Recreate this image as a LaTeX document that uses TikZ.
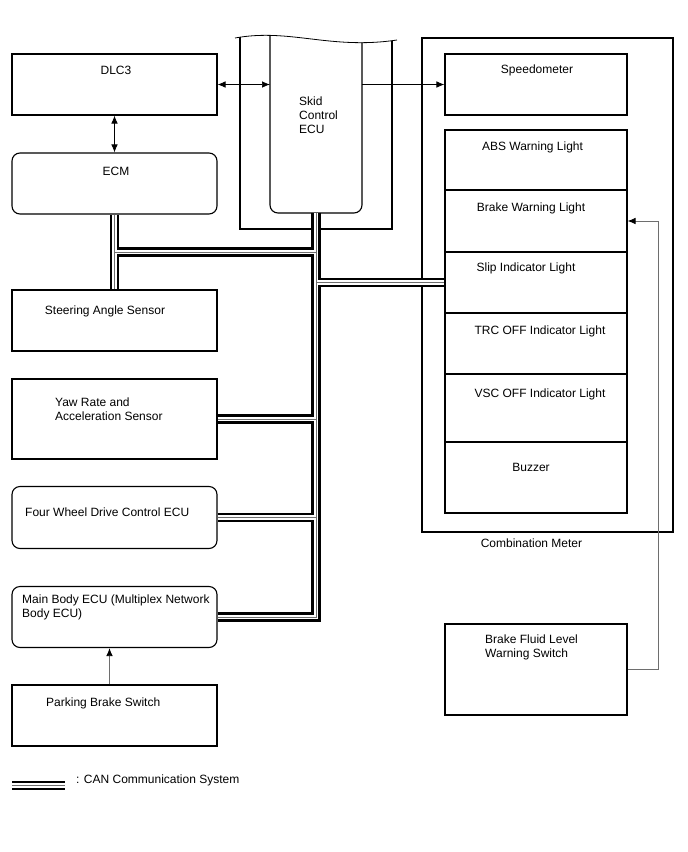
\documentclass[tikz,border=0pt]{standalone}
\usepackage{fontspec}
\setmainfont{Liberation Sans}
\usetikzlibrary{arrows.meta}
\definecolor{ln}{RGB}{110,110,110}
\begin{document}
\begin{tikzpicture}[x=1pt,y=-1pt,
  box/.style={draw, line width=1.1pt, inner sep=0pt, minimum width=205pt},
  rbox/.style={box, rounded corners=8pt},
  cell/.style={draw, line width=1.1pt, inner sep=0pt, minimum width=182pt},
  ghost/.style={inner sep=0pt, outer sep=0pt},
  lbl/.style={inner sep=0pt, font=\fontsize{12}{14}\selectfont, text height=8.6pt, text depth=0pt},
  mlbl/.style={inner sep=0pt, font=\fontsize{12}{14}\selectfont, align=left, anchor=west},
  can/.style={draw=ln, line width=0.9pt,
    preaction={draw=black, line width=9.6pt},
    preaction={draw=white, line width=4.6pt}},
  arr/.style={line width=0.7pt, -{Latex[length=8pt,width=6.5pt]}},
  darr/.style={line width=0.7pt, {Latex[length=8pt,width=6.5pt]}-{Latex[length=8pt,width=6.5pt]}},
  garr/.style={draw=ln, line width=0.8pt, -{Latex[length=8pt,width=6.5pt,color=black]}}
]
\useasboundingbox (0,0) rectangle (688,852);

% left column
\node[box,  minimum height=61pt] (dlc) at (114.5,84.5) {};
\node[rbox, minimum height=61pt] (ecm) at (114.5,183.5) {};
\node[box,  minimum height=61pt] (sas) at (114.5,320.5) {};
\node[box,  minimum height=80pt] (yaw) at (114.5,419) {};
\node[rbox, minimum height=62pt] (fwd) at (114.5,517.5) {};
\node[rbox, minimum height=61pt] (mbe) at (114.5,617) {};
\node[box,  minimum height=61pt] (pbs) at (114.5,715.5) {};

% skid control ECU (cut-away top)
\node[ghost, minimum width=92pt, minimum height=183pt] (skid) at (316,121.5) {};
\node[ghost, minimum width=152pt, minimum height=209pt] (skidf) at (316,124.5) {};
\begin{scope}
  \clip (235,38) .. controls (290,28) and (330,50) .. (397,40) -- (397,240) -- (235,240) -- cycle;
  \draw[line width=1.1pt] (skidf.north west) -- (skidf.south west) -- (skidf.south east) -- (skidf.north east);
  \draw[line width=1.1pt, rounded corners=8pt] (skid.north west) -- (skid.south west) -- (skid.south east) -- (skid.north east);
\end{scope}
\draw[line width=0.8pt] (235,38) .. controls (290,28) and (330,50) .. (397,40);

% combination meter
\node[draw, line width=1.1pt, inner sep=0pt, minimum width=251pt, minimum height=494pt] (meter) at (547.5,285) {};
\node[cell, minimum height=61pt] (spd) at (536,84.5) {};
\node[cell, minimum height=60pt] (abs) at (536,160) {};
\node[cell, minimum height=62pt] (bwl) at (536,221) {};
\node[cell, minimum height=61pt] (sil) at (536,282.5) {};
\node[cell, minimum height=61pt] (trc) at (536,343.5) {};
\node[cell, minimum height=68pt] (vsc) at (536,408) {};
\node[cell, minimum height=71pt] (buz) at (536,477.5) {};
\node[cell, minimum height=91pt] (bfs) at (536,669.5) {};

% labels
\node[lbl] (tdlc) at (116,70) {DLC3};
\node[lbl] (tecm) at (116,171) {ECM};
\node[mlbl] (tskid) at (299,115) {Skid\\Control\\ECU};
\node[lbl] (tsas) at (105,310) {Steering Angle Sensor};
\node[mlbl] (tyaw) at (55,409) {Yaw Rate and\\Acceleration Sensor};
\node[lbl, anchor=west] (tfwd) at (25,512) {Four Wheel Drive Control ECU};
\node[mlbl] (tmbe) at (22,607) {Main Body ECU (Multiplex Network\\Body ECU)};
\node[lbl, anchor=west] (tpbs) at (46,702) {Parking Brake Switch};
\node[lbl] (tspd) at (537,69) {Speedometer};
\node[lbl] (tabs) at (532.5,146) {ABS Warning Light};
\node[lbl] (tbwl) at (531,207) {Brake Warning Light};
\node[lbl] (tsil) at (526,267) {Slip Indicator Light};
\node[lbl] (ttrc) at (540,330) {TRC OFF Indicator Light};
\node[lbl] (tvsc) at (540,393) {VSC OFF Indicator Light};
\node[lbl] (tbuz) at (531,467) {Buzzer};
\node[lbl] (tmeter) at (531.5,543) {Combination Meter};
\node[mlbl] (tbfs) at (485,647) {Brake Fluid Level\\Warning Switch};

% arrows
\draw[darr] (dlc.south) -- (ecm.north);
\draw[darr] (dlc.east) -- (dlc.east -| skid.west);
\draw[arr] (spd.west -| skid.east) -- (spd.west);
\draw[garr] ([xshift=-5pt]pbs.north) -- ([xshift=-5pt]mbe.south);
\draw[garr] (bfs.east) -- ++(31,0) |- (bwl.east);

% CAN bus
\coordinate (jtop) at (316,252);
\draw[can]
  (ecm.south) -- (sas.north)
  (ecm.south |- jtop) -- (jtop)
  (skid.south) -- (mbe.east -| skid.south) -- (mbe.east)
  (sil.west -| skid.south) -- (sil.west)
  (yaw.east) -- (yaw.east -| skid.south)
  (fwd.east) -- (fwd.east -| skid.south);

% legend
\coordinate (lg1) at (12,785.5);
\coordinate (lg2) at (65,785.5);
\draw[can] (lg1) -- (lg2);
\node[lbl, anchor=west] (tlg) at (76,779) {: CAN Communication System};
\end{tikzpicture}
\end{document}
